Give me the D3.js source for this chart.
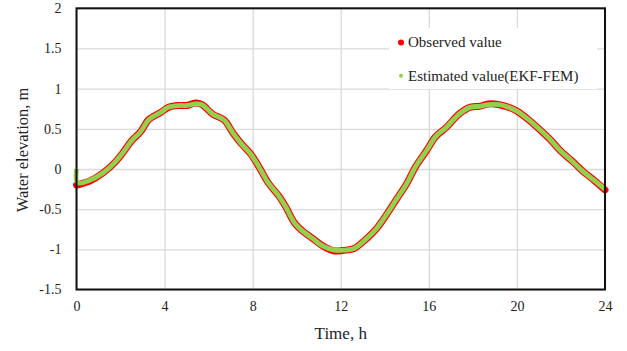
<!DOCTYPE html>
<html>
<head>
<meta charset="utf-8">
<script src="https://cdn.jsdelivr.net/npm/d3@7"></script>
<style>
  body { margin: 0; background: #fff; }
  svg text { font-family: "Liberation Serif", "Times New Roman", serif !important; fill: #222; }
</style>
</head>
<body>
<svg id="chart" width="627" height="351"></svg>
<script>
//-----------------------------------------------------------------------------
// DATA (time in h, water elevation in m)
var obsTime = [0, 0.6, 1.2, 1.7, 2.1, 2.5, 2.9, 3.3, 3.8, 4.2, 4.7, 5.0, 5.4, 5.7, 6.2, 6.7,
               7.1, 7.5, 7.9, 8.3, 8.7, 9.2, 9.5, 9.9, 10.3, 10.7, 11.2, 11.7, 12.2, 12.6,
               13.2, 13.6, 14.1, 14.5, 15.0, 15.4, 15.9, 16.3, 16.8, 17.4, 17.9, 18.3, 18.7,
               19.2, 19.6, 20.0, 20.5, 21.0, 21.5, 22.0, 22.5, 23.0, 23.5, 24];
var obsValue = [-0.20, -0.15, -0.05, 0.07, 0.20, 0.35, 0.46, 0.62, 0.70, 0.77, 0.79, 0.79, 0.82, 0.80, 0.68, 0.61,
                0.45, 0.31, 0.19, 0.02, -0.17, -0.34, -0.47, -0.67, -0.78, -0.86, -0.96, -1.02, -1.01, -0.99,
                -0.86, -0.75, -0.56, -0.39, -0.18, 0.03, 0.23, 0.40, 0.52, 0.69, 0.77, 0.78, 0.81,
                0.80, 0.77, 0.72, 0.62, 0.50, 0.37, 0.22, 0.10, -0.03, -0.14, -0.26];

var estTime = [0, 0.05, 0.6, 1.2, 1.7, 2.1, 2.5, 2.9, 3.3, 3.8, 4.2, 4.7, 5.0, 5.4, 5.7, 6.2, 6.7,
               7.1, 7.5, 7.9, 8.3, 8.7, 9.2, 9.5, 9.9, 10.3, 10.7, 11.2, 11.7, 12.2, 12.6,
               13.2, 13.6, 14.1, 14.5, 15.0, 15.4, 15.9, 16.3, 16.8, 17.4, 17.9, 18.3, 18.7,
               19.2, 19.6, 20.0, 20.5, 21.0, 21.5, 22.0, 22.5, 23.0, 23.5, 24];
var estValue = [0.00, -0.17, -0.14, -0.05, 0.07, 0.20, 0.35, 0.46, 0.62, 0.70, 0.77, 0.79, 0.79, 0.81, 0.80, 0.68, 0.61,
                0.45, 0.31, 0.19, 0.02, -0.17, -0.34, -0.47, -0.67, -0.78, -0.86, -0.96, -1.01, -1.01, -0.99,
                -0.86, -0.75, -0.56, -0.39, -0.18, 0.03, 0.23, 0.40, 0.52, 0.69, 0.77, 0.78, 0.80,
                0.80, 0.77, 0.72, 0.62, 0.50, 0.37, 0.22, 0.10, -0.03, -0.14, -0.25];

var xTicks = [0, 4, 8, 12, 16, 20, 24];
var yTicks = [-1.5, -1, -0.5, 0, 0.5, 1, 1.5, 2];
var seriesNames = ["Observed value", "Estimated value(EKF-FEM)"];
//-----------------------------------------------------------------------------
// LAYOUT
var plot = { left: 76.5, right: 605, top: 8.3, bottom: 289.5 };
var SERIF = '"Liberation Serif", "Times New Roman", serif';

var svg = d3.select("#chart");

var x = d3.scaleLinear().domain([0, 24]).range([plot.left, plot.right]);
var y = d3.scaleLinear().domain([-1.5, 2]).range([plot.bottom, plot.top]);

// gridlines
svg.append("g")
   .attr("transform", "translate(0," + plot.bottom + ")")
   .call(d3.axisBottom(x).tickValues(xTicks).tickSize(-(plot.bottom - plot.top)).tickFormat(""))
   .call(function(g){ g.select(".domain").remove(); })
   .selectAll("line").attr("stroke", "#d9d9d9").attr("stroke-width", 1.3);

svg.append("g")
   .attr("transform", "translate(" + plot.left + ",0)")
   .call(d3.axisLeft(y).tickValues(yTicks).tickSize(-(plot.right - plot.left)).tickFormat(""))
   .call(function(g){ g.select(".domain").remove(); })
   .selectAll("line").attr("stroke", "#d9d9d9").attr("stroke-width", 1.3);

// tick labels
var xLab = svg.append("g")
   .attr("transform", "translate(0," + plot.bottom + ")")
   .call(d3.axisBottom(x).tickValues(xTicks).tickSize(0).tickPadding(12).tickFormat(d3.format("d")))
   .call(function(g){ g.select(".domain").remove(); });
xLab.attr("font-family", SERIF).attr("font-size", 14);
xLab.selectAll("text").style("font-family", SERIF).style("font-size", "14px").attr("fill", "#222");

var yLab = svg.append("g")
   .attr("transform", "translate(" + (plot.left - 15) + ",0)")
   .call(d3.axisLeft(y).tickValues(yTicks).tickSize(0).tickPadding(0).tickFormat(function(d){ return String(d); }))
   .call(function(g){ g.select(".domain").remove(); });
yLab.attr("font-family", SERIF).attr("font-size", 14);
yLab.selectAll("text").style("font-family", SERIF).style("font-size", "14px").attr("fill", "#222");

// series
var line = d3.line().curve(d3.curveCatmullRom.alpha(0.5));

var obsPts = obsTime.map(function(t, i){ return [x(t), y(obsValue[i])]; });
var estPts = estTime.map(function(t, i){ return [x(t), y(estValue[i])]; });

svg.append("path").attr("d", line(obsPts))
   .attr("fill", "none").attr("stroke", "#ff0000").attr("stroke-width", 7)
   .attr("stroke-linejoin", "round").attr("stroke-linecap", "round");
svg.append("path").attr("d", line(estPts))
   .attr("fill", "none").attr("stroke", "#92d050").attr("stroke-width", 4.8)
   .attr("stroke-linejoin", "round").attr("stroke-linecap", "butt");

// plot frame
svg.append("rect")
   .attr("x", plot.left).attr("y", plot.top)
   .attr("width", plot.right - plot.left).attr("height", plot.bottom - plot.top)
   .attr("fill", "none").attr("stroke", "#111").attr("stroke-width", 2);

// legend
svg.append("rect").attr("x", 389).attr("y", 28).attr("width", 208).attr("height", 61).attr("fill", "#fff");
var legendColors = ["#ff0000", "#92d050"];
var legendRadius = [3, 2.0];
var leg = svg.selectAll(".leg").data(seriesNames).enter().append("g")
   .attr("transform", function(d, i){ return "translate(401," + (42.5 + i * 33.3) + ")"; });
leg.append("circle").attr("r", function(d, i){ return legendRadius[i]; })
   .attr("fill", function(d, i){ return legendColors[i]; });
leg.append("text").attr("x", 7).attr("dy", "0.33em")
   .style("font-family", SERIF).style("font-size", "15px").text(function(d){ return d; });

// axis titles
svg.append("text")
   .attr("x", (plot.left + plot.right) / 2).attr("y", 339)
   .attr("text-anchor", "middle").style("font-family", SERIF).style("font-size", "17px").text("Time, h");
svg.append("text")
   .attr("transform", "translate(28,150) rotate(-90)")
   .attr("text-anchor", "middle").style("font-family", SERIF).style("font-size", "16.5px").text("Water elevation, m");
</script>
</body>
</html>
